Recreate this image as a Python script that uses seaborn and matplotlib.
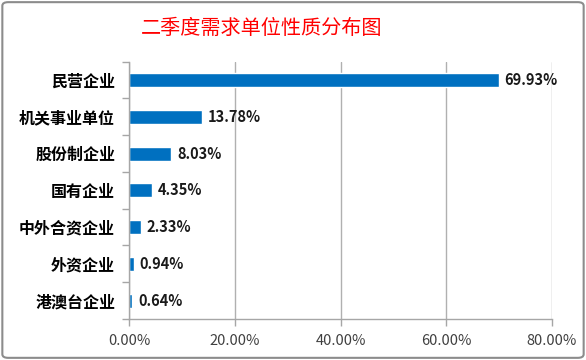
import numpy as np
import matplotlib
matplotlib.use("Agg")
import matplotlib.pyplot as plt
import seaborn as sns
from matplotlib.patches import FancyBboxPatch
from matplotlib.ticker import PercentFormatter

# data
categories = ["民营企业", "机关事业单位", "股份制企业", "国有企业", "中外合资企业", "外资企业", "港澳台企业"]
shares = [69.93, 13.78, 8.03, 4.35, 2.33, 0.94, 0.64]
x_ticks = [0, 20, 40, 60, 80]

sns.set_style("white")
plt.rcParams["font.family"] = ["Noto Sans CJK SC", "DejaVu Sans"]

fig = plt.figure(figsize=(5.86, 3.6), dpi=100)
ax = fig.add_axes([129 / 586, 1 - 319 / 360, 423 / 586, 257.4 / 360])

sns.barplot(x=shares, y=categories, orient="h", color="#0070C0",
            width=0.38, saturation=1, ax=ax)

ax.set_xlim(0, 80)
ax.set_ylim(6.5, -0.5)
ax.set_xticks(x_ticks)
ax.xaxis.set_major_formatter(PercentFormatter(decimals=2))
ax.set_xlabel("")
ax.set_ylabel("")

# gridlines and spines
ax.grid(axis="x", color="#b0b0b0", linewidth=1)
ax.set_axisbelow(True)
for side in ["top", "right"]:
    ax.spines[side].set_visible(False)
for side in ["left", "bottom"]:
    ax.spines[side].set_color("#a6a6a6")
    ax.spines[side].set_linewidth(1)

# ticks between categories on y, downward ticks on x
ax.set_yticks(np.arange(-0.5, 7, 1), minor=True)
ax.tick_params(axis="y", which="major", length=0, pad=10)
ax.tick_params(axis="y", which="minor", length=5, color="#a6a6a6", width=1, left=True)
ax.tick_params(axis="x", length=5, color="#a6a6a6", width=1, bottom=True, pad=6,
               labelsize=10.5, labelcolor="#404040")
for lbl in ax.get_yticklabels():
    lbl.set_fontsize(11.5)
    lbl.set_fontweight("bold")
    lbl.set_color("black")

ax.bar_label(ax.containers[0], labels=[f"{v:.2f}%" for v in shares],
             padding=4, fontsize=10.5, fontweight="bold", color="#1a1a1a")

fig.text(261.5 / 586, 1 - 28 / 360, "二季度需求单位性质分布图",
         ha="center", va="center", fontsize=14.5, color="#FF0000")

border = FancyBboxPatch((0.004, 0.006), 0.992, 0.988, boxstyle="round,pad=0,rounding_size=0.01",
                        transform=fig.transFigure, fill=False, edgecolor="#8c8c8c", linewidth=1.5)
fig.patches.append(border)

fig.savefig("out.png", dpi=100)
